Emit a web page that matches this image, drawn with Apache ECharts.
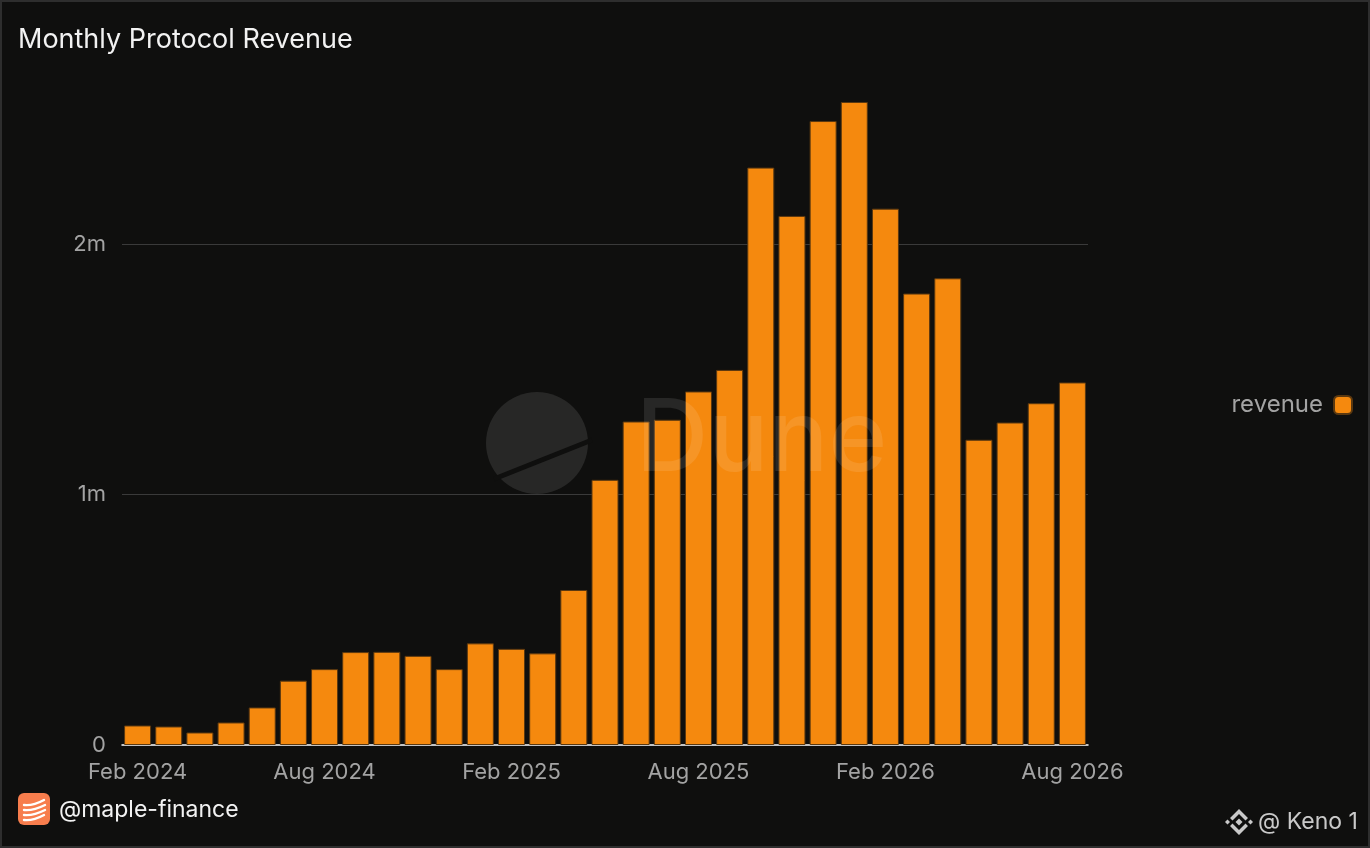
<!DOCTYPE html>
<html>
<head>
<meta charset="utf-8">
<script src="https://cdn.jsdelivr.net/npm/echarts@6/dist/echarts.min.js"></script>
<style>
  html, body { margin: 0; padding: 0; background: #0f0f0e; }
  #main { width: 1370px; height: 848px; }
</style>
</head>
<body>
<div id="main"></div>
<script type="text/javascript">
// months shown on the category axis
var months = [
  'Feb 2024', 'Mar 2024', 'Apr 2024', 'May 2024', 'Jun 2024', 'Jul 2024',
  'Aug 2024', 'Sep 2024', 'Oct 2024', 'Nov 2024', 'Dec 2024', 'Jan 2025',
  'Feb 2025', 'Mar 2025', 'Apr 2025', 'May 2025', 'Jun 2025', 'Jul 2025',
  'Aug 2025', 'Sep 2025', 'Oct 2025', 'Nov 2025', 'Dec 2025', 'Jan 2026',
  'Feb 2026', 'Mar 2026', 'Apr 2026', 'May 2026', 'Jun 2026', 'Jul 2026',
  'Aug 2026'
];
// revenue per month (USD)
var revenue = [
  78000, 74000, 50000, 90000, 150000, 257000,
  303000, 371000, 372000, 356000, 303000, 406000,
  384000, 366000, 619000, 1059000, 1292000, 1299000,
  1412000, 1498000, 2306000, 2113000, 2492000, 2568000,
  2142000, 1803000, 1864000, 1219000, 1288000, 1365000,
  1448000
];
var yTicks = [0, 1000000, 2000000];

var myChart = echarts.init(document.getElementById('main'));
var font = 'Inter, "Noto Sans", sans-serif';

// maple logo stripes, z set on each piece so they sit over the tile
function stripe(y, dx) {
  return {
    type: 'bezierCurve', z: 152, silent: true,
    shape: { x1: 24, y1: y + 5, cpx1: 33, cpy1: y + 6, x2: 44 + dx, y2: y },
    style: { stroke: '#ffffff', lineWidth: 2.4, fill: 'none', lineCap: 'round' }
  };
}

var option = {
  backgroundColor: '#0f0f0e',
  animation: false,
  textStyle: { fontFamily: font },
  title: {
    text: 'Monthly Protocol Revenue',
    left: 18,
    top: 26,
    padding: 0,
    textStyle: { color: '#f2f2f2', fontSize: 27, fontWeight: 'normal', fontFamily: font }
  },
  legend: {
    data: ['revenue'],
    orient: 'vertical',
    right: 12,
    top: 388,
    align: 'right',
    icon: 'roundRect',
    itemWidth: 18,
    itemHeight: 18,
    textStyle: { color: '#a3a3a3', fontSize: 24, fontFamily: font, padding: [0, 6, 0, 0] }
  },
  grid: {
    left: 122,
    right: 282,
    top: 94,
    bottom: 103,
    containLabel: false
  },
  xAxis: {
    type: 'category',
    data: months,
    boundaryGap: true,
    axisLine: { show: true, lineStyle: { color: '#ffffff', width: 1.5 } },
    axisTick: { show: false },
    axisLabel: {
      interval: 5,
      margin: 16,
      color: '#a3a3a3',
      fontSize: 22,
      fontFamily: font
    },
    splitLine: { show: false }
  },
  yAxis: {
    type: 'value',
    min: 0,
    max: 2600000,
    interval: 1000000,
    axisLine: { show: false },
    axisTick: { show: false },
    axisLabel: {
      showMaxLabel: false,
      margin: 16,
      color: '#a3a3a3',
      fontSize: 22,
      fontFamily: font,
      formatter: function (v) {
        if (yTicks.indexOf(v) < 0) return '';
        return v === 0 ? '0' : (v / 1000000) + 'm';
      }
    },
    splitLine: {
      show: true,
      showMinLine: false,
      showMaxLine: false,
      lineStyle: { color: '#3a3a3a', width: 1 }
    }
  },
  series: [{
    name: 'revenue',
    type: 'bar',
    data: revenue,
    barWidth: 27,
    itemStyle: {
      color: '#f5890e',
      borderColor: '#5a3810',
      borderWidth: 1
    }
  }],
  graphic: [
    // outer frame
    {
      type: 'rect', z: 200, silent: true,
      shape: { x: 1, y: 1, width: 1368, height: 846 },
      style: { fill: 'none', stroke: '#2e2e2e', lineWidth: 2 }
    },
    // Dune watermark
    {
      type: 'circle', z: 150, silent: true,
      shape: { cx: 537, cy: 443, r: 51 },
      style: { fill: 'rgba(255,255,255,0.1)' }
    },
    {
      type: 'line', z: 151, silent: true,
      shape: { x1: 494, y1: 479, x2: 592, y2: 440 },
      style: { stroke: '#0f0f0e', lineWidth: 5 }
    },
    {
      type: 'text', z: 150, silent: true,
      left: 636, top: 391,
      style: {
        text: 'Dune',
        fill: 'rgba(255,255,255,0.1)',
        font: '500 100px ' + font
      }
    },
    // maple logo
    {
      type: 'rect', z: 150, silent: true,
      shape: { x: 18, y: 793, width: 32, height: 32, r: 6 },
      style: { fill: '#f77d4d' }
    },
    stripe(800, 0),
    stripe(805, 1),
    stripe(810, 1),
    stripe(815, 0),
    {
      type: 'text', z: 150, silent: true,
      left: 59, top: 799,
      style: { text: '@maple-finance', fill: '#f2f2f2', font: '23px ' + font }
    },
    // binance-style mark and handle
    { type: 'polygon', z: 150, silent: true, shape: { points: [[1230, 818], [1239, 809], [1248, 818], [1245.5, 820.5], [1239, 814], [1232.5, 820.5]] }, style: { fill: '#c9c9c9' } },
    { type: 'polygon', z: 150, silent: true, shape: { points: [[1230, 826], [1239, 835], [1248, 826], [1245.5, 823.5], [1239, 830], [1232.5, 823.5]] }, style: { fill: '#c9c9c9' } },
    { type: 'polygon', z: 150, silent: true, shape: { points: [[1239, 818.5], [1242.5, 822], [1239, 825.5], [1235.5, 822]] }, style: { fill: '#c9c9c9' } },
    { type: 'polygon', z: 150, silent: true, shape: { points: [[1227.5, 819.5], [1230, 822], [1227.5, 824.5], [1225, 822]] }, style: { fill: '#c9c9c9' } },
    { type: 'polygon', z: 150, silent: true, shape: { points: [[1250.5, 819.5], [1253, 822], [1250.5, 824.5], [1248, 822]] }, style: { fill: '#c9c9c9' } },
    {
      type: 'text', z: 150, silent: true,
      left: 1258, top: 811,
      style: { text: '@ Keno 1', fill: '#c9c9c9', font: '23px ' + font }
    }
  ]
};

myChart.setOption(option);
</script>
</body>
</html>
